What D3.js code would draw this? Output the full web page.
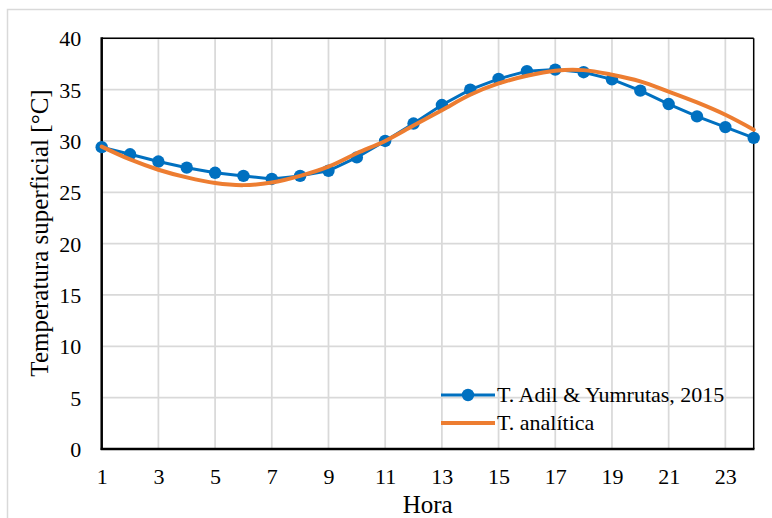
<!DOCTYPE html>
<html>
<head>
<meta charset="utf-8">
<script src="https://cdn.jsdelivr.net/npm/d3@7"></script>
<style>
  html, body { margin: 0; padding: 0; background: #fff; }
  svg { display: block; }
  svg text { font-family: "Liberation Serif", "DejaVu Serif", serif !important; fill: #000; }
</style>
</head>
<body>
<svg id="chart" width="772" height="518"></svg>
<script>
// Surface temperature over the day
const hours = d3.range(1, 25);
const tAdil = [29.4, 28.7, 28.0, 27.4, 26.9, 26.6, 26.3, 26.6, 27.1, 28.4, 30.0, 31.7,
               33.5, 35.0, 36.05, 36.8, 36.95, 36.7, 36.0, 34.9, 33.6, 32.4, 31.35, 30.3];
const tAnalitica = [29.45, 28.2, 27.2, 26.45, 25.9, 25.7, 25.95, 26.6, 27.5, 28.8, 30.0, 31.5,
                    33.0, 34.5, 35.6, 36.35, 36.85, 36.9, 36.45, 35.8, 34.8, 33.75, 32.55, 31.1];
const xTicks = [1, 3, 5, 7, 9, 11, 13, 15, 17, 19, 21, 23];
const yTicks = [0, 5, 10, 15, 20, 25, 30, 35, 40];
const seriesNames = ["T. Adil & Yumrutas, 2015", "T. analítica"];

const serif = "'Liberation Serif', serif";
const svg = d3.select("#chart").attr("font-family", serif);
const plotL = 101.7, plotR = 753.7, plotT = 38.3, plotB = 449;

const x = d3.scaleLinear().domain([1, 24]).range([plotL, plotR]);
const y = d3.scaleLinear().domain([0, 40]).range([plotB, plotT]);

// outer chart border
svg.append("rect")
  .attr("x", 7.5).attr("y", 9.5).attr("width", 800).attr("height", 600)
  .attr("fill", "none").attr("stroke", "#d9d9d9").attr("stroke-width", 1.5);

// gridlines
svg.append("g").selectAll("line").data(xTicks.slice(1)).join("line")
  .attr("x1", d => x(d)).attr("x2", d => x(d))
  .attr("y1", plotT).attr("y2", plotB)
  .attr("stroke", "#d9d9d9").attr("stroke-width", 1.75);
svg.append("g").selectAll("line").data(yTicks.slice(1)).join("line")
  .attr("x1", plotL).attr("x2", plotR)
  .attr("y1", d => y(d)).attr("y2", d => y(d))
  .attr("stroke", "#d9d9d9").attr("stroke-width", 1.75);

// plot frame
svg.append("line").attr("x1", plotL).attr("x2", plotR).attr("y1", plotT).attr("y2", plotT)
  .attr("stroke", "#000").attr("stroke-width", 1.5);
svg.append("line").attr("x1", plotR).attr("x2", plotR).attr("y1", plotT).attr("y2", plotB)
  .attr("stroke", "#000").attr("stroke-width", 1.5);

// axes
const xAxis = d3.axisBottom(x).tickValues(xTicks).tickSize(0).tickPadding(0).tickFormat(d3.format("d"));
const yAxis = d3.axisLeft(y).tickValues(yTicks).tickSize(0).tickPadding(0).tickFormat(d3.format("d"));

const gx = svg.append("g").attr("transform", `translate(0,${plotB})`).call(xAxis)
  .attr("font-family", serif).attr("font-size", 22);
gx.select(".domain").remove();
gx.selectAll("text").attr("y", 35).attr("dy", null).attr("fill", "#000");

const gy = svg.append("g").attr("transform", `translate(${plotL},0)`).call(yAxis)
  .attr("font-family", serif).attr("font-size", 22);
gy.select(".domain").remove();
gy.selectAll("text").attr("x", -20.5).attr("dy", "0.34em").attr("fill", "#000");

svg.append("line").attr("x1", plotL).attr("x2", plotL).attr("y1", plotT - 1).attr("y2", plotB + 1)
  .attr("stroke", "#000").attr("stroke-width", 2.5);
svg.append("line").attr("x1", plotL - 1).attr("x2", plotR + 0.75).attr("y1", plotB).attr("y2", plotB)
  .attr("stroke", "#000").attr("stroke-width", 2.5);

// series
const blue = "#0070c0", orange = "#ed7d31";

svg.append("path")
  .datum(hours.map((h, i) => [h, tAdil[i]]))
  .attr("fill", "none").attr("stroke", blue).attr("stroke-width", 3)
  .attr("d", d3.line().x(d => x(d[0])).y(d => y(d[1])));

svg.append("g").selectAll("circle").data(hours.map((h, i) => [h, tAdil[i]])).join("circle")
  .attr("cx", d => x(d[0])).attr("cy", d => y(d[1])).attr("r", 6.2)
  .attr("fill", blue);

svg.append("path")
  .datum(hours.map((h, i) => [h, tAnalitica[i]]))
  .attr("fill", "none").attr("stroke", orange).attr("stroke-width", 4)
  .attr("stroke-linecap", "round")
  .attr("d", d3.line().curve(d3.curveCatmullRom).x(d => x(d[0])).y(d => y(d[1])));

// legend
const legend = svg.append("g").attr("font-family", serif).attr("font-size", 22);
const legendRows = [
  { name: seriesNames[0], color: blue, width: 3, marker: true, yPos: 395 },
  { name: seriesNames[1], color: orange, width: 4, marker: false, yPos: 423 }
];
legendRows.forEach(r => {
  legend.append("line").attr("x1", 441).attr("x2", 495).attr("y1", r.yPos).attr("y2", r.yPos)
    .attr("stroke", r.color).attr("stroke-width", r.width);
  if (r.marker) {
    legend.append("circle").attr("cx", 468).attr("cy", r.yPos).attr("r", 6.2).attr("fill", r.color);
  }
  legend.append("text").attr("x", 497).attr("y", r.yPos).attr("dy", "0.34em").text(r.name);
});

// axis titles
svg.append("text").attr("x", (plotL + plotR) / 2).attr("y", 513)
  .attr("text-anchor", "middle").attr("font-size", 25).text("Hora");
svg.append("text")
  .attr("transform", `translate(48,233) rotate(-90)`)
  .attr("text-anchor", "middle").attr("font-size", 25)
  .text("Temperatura superficial [°C]");
</script>
</body>
</html>
